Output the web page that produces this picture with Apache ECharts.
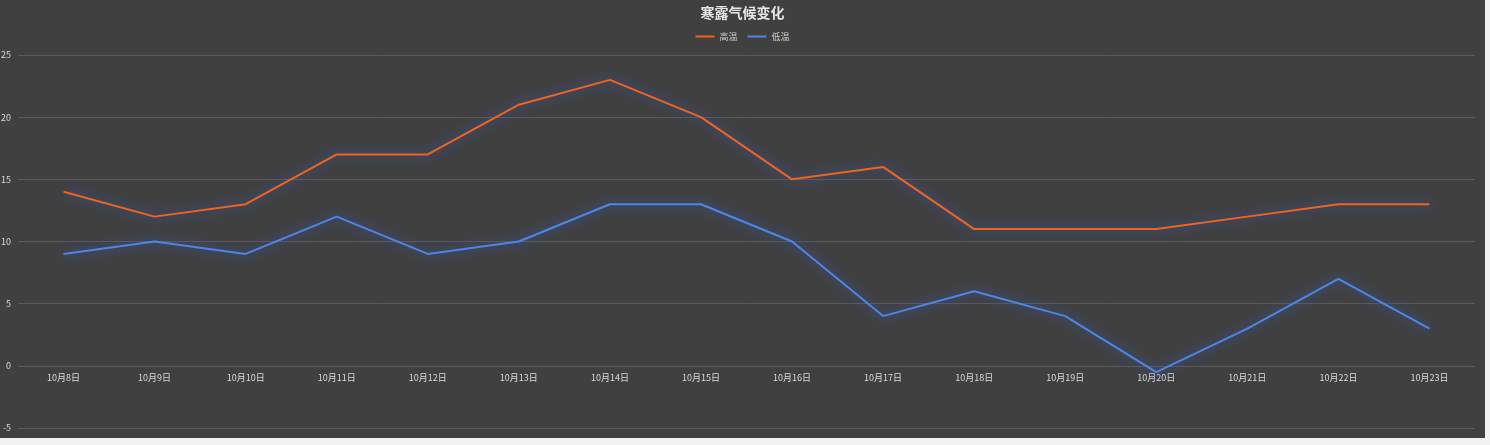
<!DOCTYPE html>
<html>
<head>
<meta charset="utf-8">
<script src="https://cdn.jsdelivr.net/npm/echarts@6/dist/echarts.min.js"></script>
<style>
  html, body { margin: 0; padding: 0; background: #f2f2f2; }
  #chart { width: 1485px; height: 438px; background: #404040; }
</style>
</head>
<body>
<div id="chart"></div>
<script>
var days = ['10月8日', '10月9日', '10月10日', '10月11日', '10月12日', '10月13日', '10月14日', '10月15日',
  '10月16日', '10月17日', '10月18日', '10月19日', '10月20日', '10月21日', '10月22日', '10月23日']
var highTemp = [14, 12, 13, 17, 17, 21, 23, 20, 15, 16, 11, 11, 11, 12, 13, 13]
var lowTemp = [9, 10, 9, 12, 9, 10, 13, 13, 10, 4, 6, 4, -0.5, 3, 7, 3]

var font = '"Noto Sans CJK SC", "Noto Sans", sans-serif'

function lineSeries(name, color, data) {
  return {
    name: name,
    type: 'line',
    data: data,
    symbol: 'none',
    lineStyle: {
      color: color,
      width: 2,
      // 线条外发光
      shadowColor: 'rgba(60,100,225,0.95)',
      shadowBlur: 12
    },
    itemStyle: { color: color }
  }
}

var chart = echarts.init(document.getElementById('chart'))
chart.setOption({
  animation: false,
  textStyle: { fontFamily: font },
  title: {
    text: '寒露气候变化',
    left: 'center',
    top: 1,
    textStyle: { color: '#e6e6e6', fontSize: 14, fontWeight: 'bold', fontFamily: font }
  },
  legend: {
    top: 27,
    left: 'center',
    itemWidth: 19,
    itemHeight: 2,
    itemGap: 10,
    icon: 'rect',
    textStyle: { color: '#d0d0d0', fontSize: 9, fontFamily: font },
    data: ['高温', '低温']
  },
  grid: { left: 18, right: 10, top: 55, bottom: 10, containLabel: false, outerBoundsMode: 'none' },
  xAxis: {
    type: 'category',
    data: days,
    boundaryGap: true,
    // 标签放在0刻度线下方
    offset: -62,
    axisLine: { show: false, onZero: false },
    axisTick: { show: false },
    axisLabel: { color: '#dadada', fontSize: 9, margin: 7, fontFamily: font }
  },
  yAxis: {
    type: 'value',
    min: -5,
    max: 25,
    interval: 5,
    axisLine: { show: false },
    axisTick: { show: false },
    axisLabel: { color: '#dadada', fontSize: 9, margin: 7, fontFamily: font },
    splitLine: { lineStyle: { color: '#5a5a5a', width: 1 } }
  },
  series: [
    lineSeries('高温', '#f0641e', highTemp),
    lineSeries('低温', '#4d87e6', lowTemp)
  ]
})
</script>
</body>
</html>
